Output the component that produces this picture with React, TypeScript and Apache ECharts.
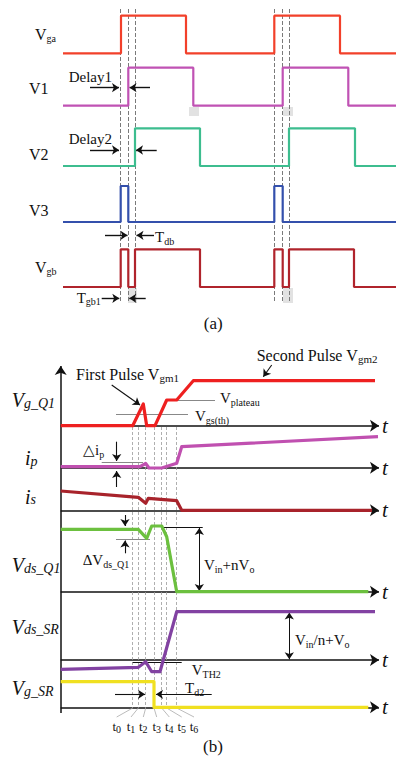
import React, { useEffect, useRef } from "react";
import * as echarts from "echarts";

const W = 396;
const H = 760;

// ---------- Part (a): step waveforms (edge times, start low) ----------
const aStart = 63;
const aEnd = 396;
const vgaEdges = [121, 186, 274.3, 340];
const v1Edges = [128.3, 193.3, 282.7, 348.3];
const v2Edges = [135, 200, 289, 355];
const v3Edges = [120.7, 128.3, 274.3, 282.7];
const vgbEdges = [120.7, 128.3, 135, 200, 274.3, 282.7, 289, 354];
const aMarkers = [120.7, 128.3, 135, 274.3, 282.7, 289];

// ---------- Part (b): piecewise waveforms (time, height above own axis) ----------
const bStart = 60.7;
const vgq1T = [60.7, 132.7, 143.3, 146.7, 155, 166.7, 176.7, 193.3, 375];
const vgq1V = [0, 0, 21.7, 0, 0, 25.7, 25.7, 45, 45];
const ipT = [60.7, 140, 145.7, 149, 161.7, 176.7, 181.7, 378];
const ipV = [1, 1, 4.2, -0.3, -0.3, 4.4, 21, 31];
const isT = [60.7, 138.3, 145.7, 148.3, 176.7, 181.7, 372];
const isV = [19.3, 13, 7, 12, 9.6, 0, 0];
const vdsq1T = [60.7, 138.3, 146.7, 151.7, 161.7, 166.7, 176.7, 368.3];
const vdsq1V = [62.4, 62.4, 53.4, 65.7, 65.7, 55, 0, 0];
const vdssrT = [60.7, 138.3, 145.7, 151.7, 160, 176.7, 375];
const vdssrV = [-9.3, -7.3, -1.7, -11.7, -11.7, 48.3, 48.3];
const vgsrT = [60.7, 154, 154, 368.3];
const vgsrV = [25.6, 25.6, 0, 0];
const bMarkers = [132.7, 138.3, 145.7, 154, 161.7, 166.7, 176.7];
const tLabels = ["0", "1", "2", "3", "4", "5", "6"];
const tLabelX = [116.7, 131, 143.3, 156.7, 169.3, 181.7, 194];

// ---------- layout ----------
const aRows = [
  { base: 53.3, amp: 37.6, edges: vgaEdges, color: "#f2402a" },
  { base: 105.7, amp: 38, edges: v1Edges, color: "#c052b4" },
  { base: 166, amp: 37.7, edges: v2Edges, color: "#3dbd8f" },
  { base: 222, amp: 36, edges: v3Edges, color: "#3450ac" },
  { base: 287, amp: 37.7, edges: vgbEdges, color: "#b0242c" },
];
const bAxes = [425.7, 467.7, 510.3, 591.7, 660, 707.3];
const bRows = [
  { t: vgq1T, v: vgq1V, base: 425.7, color: "#ee2020" },
  { t: ipT, v: ipV, base: 467.7, color: "#c050b0" },
  { t: isT, v: isV, base: 510.3, color: "#a8232b" },
  { t: vdsq1T, v: vdsq1V, base: 591.7, color: "#6cc03f" },
  { t: vdssrT, v: vdssrV, base: 660, color: "#8242a2" },
  { t: vgsrT, v: vgsrV, base: 707.3, color: "#f0e020" },
];

const SERIF = "'Liberation Serif', 'Times New Roman', serif";

function stepPts(edges: number[], base: number, amp: number) {
  const pts: number[][] = [[aStart, base]];
  let lvl = 0;
  for (const e of edges) {
    pts.push([e, base - lvl * amp]);
    lvl = 1 - lvl;
    pts.push([e, base - lvl * amp]);
  }
  pts.push([aEnd, base - lvl * amp]);
  return pts;
}

function seg(x1: number, y1: number, x2: number, y2: number) {
  return { coords: [[x1, y1], [x2, y2]] };
}

const rich: any = {
  a: { fontFamily: SERIF, fontSize: 16, lineHeight: 18, verticalAlign: "middle", fill: "#111" },
  as: { fontFamily: SERIF, fontSize: 10, lineHeight: 8, verticalAlign: "bottom", fill: "#111" },
  n: { fontFamily: SERIF, fontSize: 15, lineHeight: 18, verticalAlign: "middle", fill: "#111" },
  ns: { fontFamily: SERIF, fontSize: 10, lineHeight: 8, verticalAlign: "bottom", fill: "#111" },
  p: { fontFamily: SERIF, fontSize: 16, lineHeight: 18, verticalAlign: "middle", fill: "#111" },
  ps: { fontFamily: SERIF, fontSize: 11, lineHeight: 8, verticalAlign: "bottom", fill: "#111" },
  i: { fontFamily: SERIF, fontSize: 20, fontStyle: "italic", lineHeight: 20, verticalAlign: "middle", fill: "#111" },
  is: { fontFamily: SERIF, fontSize: 14, fontStyle: "italic", lineHeight: 9, verticalAlign: "bottom", fill: "#111" },
  t: { fontFamily: SERIF, fontSize: 21, fontStyle: "italic", lineHeight: 22, verticalAlign: "middle", fill: "#111" },
  c: { fontFamily: SERIF, fontSize: 17, lineHeight: 20, verticalAlign: "middle", fill: "#111" },
  tt: { fontFamily: SERIF, fontSize: 13, lineHeight: 16, verticalAlign: "middle", fill: "#111" },
  tts: { fontFamily: SERIF, fontSize: 10, lineHeight: 7, verticalAlign: "bottom", fill: "#111" },
};

function txt(x: number, y: number, text: string, align = "left") {
  return {
    type: "text",
    x,
    y,
    silent: true,
    z: 100,
    style: { text, rich, align, verticalAlign: "middle", fontFamily: SERIF, fill: "#111" },
  };
}

export default function App() {
  const ref = useRef<HTMLDivElement>(null);
  useEffect(() => {
    document.body.style.margin = "0";
    const chart = echarts.init(ref.current!, null, { renderer: "svg" });

    const series: any[] = [];

    // part (a) dashed markers
    series.push({
      type: "lines",
      coordinateSystem: "cartesian2d",
      silent: true,
      symbol: "none",
      lineStyle: { color: "#7a7a7a", width: 1, type: [4, 2], opacity: 1 },
      data: aMarkers.map((x) => seg(x, 9, x, 303)),
    });

    aRows.forEach((r) => {
      series.push({
        type: "line",
        silent: true,
        clip: false,
        symbol: "none",
        lineStyle: { color: r.color, width: 2.2 },
        data: stepPts(r.edges, r.base, r.amp),
      });
    });

    // part (a) arrows
    series.push({
      type: "lines",
      coordinateSystem: "cartesian2d",
      silent: true,
      symbol: ["none", "arrow"],
      symbolSize: 7,
      lineStyle: { color: "#111", width: 1.4, opacity: 1 },
      data: [
        seg(90, 87.7, 119, 87.7),
        seg(150, 87.7, 129.5, 87.7),
        seg(90, 150, 119, 150),
        seg(156.7, 150, 136, 150),
        seg(105, 235.3, 127.5, 235.3),
        seg(154, 235.3, 136.5, 235.3),
        seg(101.7, 298.3, 119.3, 298.3),
        seg(145.7, 298.3, 129.3, 298.3),
      ],
    });

    // part (b) axes
    series.push({
      type: "lines",
      coordinateSystem: "cartesian2d",
      silent: true,
      symbol: ["none", "arrow"],
      symbolSize: 9,
      lineStyle: { color: "#111", width: 1.5, opacity: 1 },
      data: [seg(bStart, 713, bStart, 366), ...bAxes.map((y) => seg(bStart, y, 379, y))],
    });

    // part (b) dashed time markers and leaders
    series.push({
      type: "lines",
      coordinateSystem: "cartesian2d",
      silent: true,
      symbol: "none",
      lineStyle: { color: "#9a9a9a", width: 0.8, type: [3, 2], opacity: 1 },
      data: bMarkers.map((x) => seg(x, 427, x, 708)),
    });
    series.push({
      type: "lines",
      coordinateSystem: "cartesian2d",
      silent: true,
      symbol: "none",
      lineStyle: { color: "#aaa", width: 0.8, opacity: 1 },
      data: bMarkers.map((x, i) => seg(x, 708, tLabelX[i], 717)),
    });

    // threshold reference lines
    series.push({
      type: "lines",
      coordinateSystem: "cartesian2d",
      silent: true,
      symbol: "none",
      lineStyle: { color: "#888", width: 1.2, opacity: 1 },
      data: [
        seg(176.7, 400, 215, 400),
        seg(116, 414, 188, 414),
        seg(101.7, 462.3, 143, 462.3),
        seg(116, 539, 150, 539),
      ],
    });
    series.push({
      type: "lines",
      coordinateSystem: "cartesian2d",
      silent: true,
      symbol: "none",
      lineStyle: { color: "#111", width: 1.2, opacity: 1 },
      data: [seg(161.7, 527.3, 202.7, 527.3), seg(132.7, 662.7, 181.7, 662.7)],
    });

    bRows.forEach((r) => {
      series.push({
        type: "line",
        silent: true,
        clip: false,
        symbol: "none",
        lineStyle: { color: r.color, width: 3.2, join: "round" },
        data: r.t.map((t, i) => [t, r.base - r.v[i]]),
      });
    });

    // part (b) annotation arrows
    series.push({
      type: "lines",
      coordinateSystem: "cartesian2d",
      silent: true,
      symbol: ["none", "arrow"],
      symbolSize: 7,
      lineStyle: { color: "#111", width: 1.1, opacity: 1 },
      data: [
        seg(111.7, 385, 140, 405),
        seg(271.7, 365, 263.3, 376.7),
        seg(116.7, 441.7, 116.7, 461),
        seg(116.7, 487, 116.7, 471),
        seg(125, 515, 125, 526),
        seg(125, 553.3, 125, 540.5),
        seg(115, 694.3, 145, 694.3),
        seg(211.7, 694.3, 156, 694.3),
      ],
    });
    series.push({
      type: "lines",
      coordinateSystem: "cartesian2d",
      silent: true,
      symbol: ["arrow", "arrow"],
      symbolSize: 7,
      lineStyle: { color: "#111", width: 1, opacity: 1 },
      data: [seg(199.3, 528, 199.3, 591), seg(289.3, 612.5, 289.3, 659.3)],
    });

    const graphics: any[] = [
      { type: "rect", shape: { x: 189, y: 107, width: 10, height: 9 }, style: { fill: "#e2e2e2" }, silent: true },
      { type: "rect", shape: { x: 283, y: 107, width: 10, height: 9 }, style: { fill: "#e2e2e2" }, silent: true },
      { type: "rect", shape: { x: 128, y: 288, width: 9, height: 15 }, style: { fill: "#e2e2e2" }, silent: true },
      { type: "rect", shape: { x: 283, y: 288, width: 10, height: 15 }, style: { fill: "#e2e2e2" }, silent: true },
      txt(35, 34.7, "{a|V}{as|ga}"),
      txt(29, 88.3, "{a|V1}"),
      txt(68.7, 77.3, "{n|Delay1}"),
      txt(68.7, 138.7, "{n|Delay2}"),
      txt(29, 154.3, "{a|V2}"),
      txt(29, 210, "{a|V3}"),
      txt(35, 267.3, "{a|V}{as|gb}"),
      txt(155, 237.3, "{n|T}{ns|db}"),
      txt(76.7, 297.7, "{n|T}{ns|gb1}"),
      txt(213.3, 323.3, "{c|(a)}", "center"),
      txt(76, 374, "{p|First Pulse V}{ps|gm1}"),
      txt(256.7, 355, "{p|Second Pulse V}{ps|gm2}"),
      txt(220, 398, "{n|V}{ns|plateau}"),
      txt(195, 416, "{n|V}{ns|gs(th)}"),
      txt(11.7, 400, "{i|V}{is|g_Q1}"),
      txt(25, 458, "{i|i}{is|p}"),
      txt(25, 496.7, "{i|i}{is|s}"),
      txt(11.7, 565, "{i|V}{is|ds_Q1}"),
      txt(11.7, 626.7, "{i|V}{is|ds_SR}"),
      txt(11.7, 688, "{i|V}{is|g_SR}"),
      txt(83, 450, "{n|△i}{ns|p}"),
      txt(82.7, 560, "{n|ΔV}{ns|ds_Q1}"),
      txt(204, 565, "{n|V}{ns|in}{n|+nV}{ns|o}"),
      txt(295, 640, "{n|V}{ns|in}{n|/n+V}{ns|o}"),
      txt(191.7, 670, "{n|V}{ns|TH2}"),
      txt(185, 688, "{n|T}{ns|d2}"),
      txt(213, 746.7, "{c|(b)}", "center"),
      ...bAxes.map((y) => txt(382, y, "{t|t}")),
      ...tLabels.map((l, i) => txt(tLabelX[i], 726.7, `{tt|t}{tts|${l}}`, "center")),
    ];

    chart.setOption({
      animation: false,
      backgroundColor: "#fff",
      grid: { left: 0, top: 0, width: W, height: H, containLabel: false },
      xAxis: { type: "value", min: 0, max: W, show: false },
      yAxis: { type: "value", min: 0, max: H, inverse: true, show: false },
      series,
      graphic: graphics,
    });
    return () => chart.dispose();
  }, []);
  return <div ref={ref} style={{ width: W, height: H }} />;
}
